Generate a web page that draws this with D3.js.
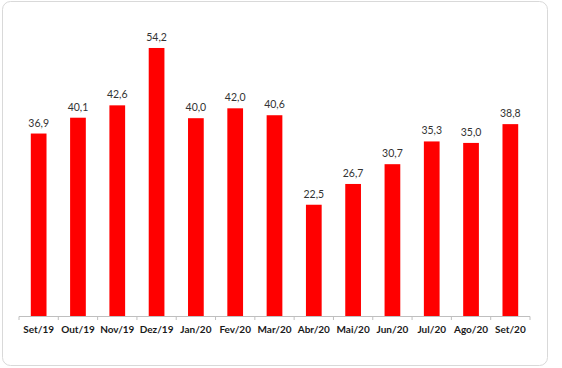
<!DOCTYPE html>
<html>
<head>
<meta charset="utf-8" />
<title>Chart</title>
<script src="https://d3js.org/d3.v7.min.js"></script>
<style>
body { margin: 0; background: #fff; }
text { font-family: Lato, "Open Sans", sans-serif; }
</style>
</head>
<body>
<div id="chart"></div>
<script>
// months and values
var months = ["Set/19", "Out/19", "Nov/19", "Dez/19", "Jan/20", "Fev/20", "Mar/20",
              "Abr/20", "Mai/20", "Jun/20", "Jul/20", "Ago/20", "Set/20"];
var values = [36.9, 40.1, 42.6, 54.2, 40.0, 42.0, 40.6, 22.5, 26.7, 30.7, 35.3, 35.0, 38.8];

var width = 562, height = 368;
var svg = d3.select("#chart").append("svg")
    .attr("width", width).attr("height", height);

/* outer frame */
svg.append("rect")
    .attr("x", 2.5).attr("y", 1.5)
    .attr("width", 545).attr("height", 364)
    .attr("rx", 8)
    .style("fill", "none")
    .style("stroke", "#d9d9d9");

var x = d3.scaleBand().domain(months).range([19, 530]).paddingInner(0.6).paddingOuter(0.3);
var y = d3.scaleLinear().domain([0, 60]).range([316, 19.3]);

var xAxis = d3.axisBottom(x).tickSize(0).tickPadding(10);
var gx = svg.append("g").attr("transform", "translate(0,316)").call(xAxis);
gx.select(".domain").attr("d", "M19,0.5H530").style("stroke", "#bfbfbf");
gx.selectAll("text")
    .style("font-size", "10px").style("font-weight", "bold").style("fill", "#1a1a1a");

// tick marks at band boundaries
gx.selectAll("line.sep")
    .data(d3.range(months.length + 1))
    .enter().append("line")
    .attr("class", "sep")
    .attr("x1", function(i) { return 19 + i * (511 / months.length); })
    .attr("x2", function(i) { return 19 + i * (511 / months.length); })
    .attr("y1", 0.5).attr("y2", 4)
    .style("stroke", "#bfbfbf");

svg.append("g").selectAll("rect")
    .data(values)
    .enter().append("rect")
    .attr("x", function(d, i) { return x(months[i]); })
    .attr("y", function(d) { return y(d); })
    .attr("width", x.bandwidth())
    .attr("height", function(d) { return 316 - y(d); })
    .style("fill", "#ff0000");

svg.append("g").selectAll("text")
    .data(values)
    .enter().append("text")
    .attr("x", function(d, i) { return x(months[i]) + x.bandwidth() / 2; })
    .attr("y", function(d) { return y(d) - 7; })
    .attr("text-anchor", "middle")
    .style("font-size", "10.5px")
    .style("fill", "#333")
    .text(function(d) { return d.toFixed(1).replace(".", ","); });
</script>
</body>
</html>
